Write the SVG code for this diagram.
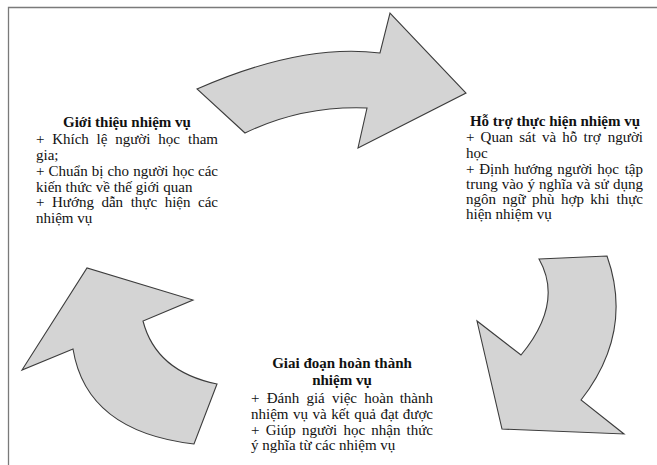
<svg xmlns="http://www.w3.org/2000/svg" width="657" height="465" viewBox="0 0 657 465">
<style>
.frame{fill:none;stroke:#7a7a7a;stroke-width:1.3}
.arrow{fill:#d4d4d4;stroke:#3c3c3c;stroke-width:1.1;stroke-linejoin:miter}
.tx{font-size:15px;fill:#111}
.t{font-weight:bold;text-anchor:middle}
.e{text-anchor:end}
</style>
<rect width="657" height="465" fill="#fff"/>
<path class="frame" d="M8.5,465 V7.5 H657"/>
<g id="connectors">
<path id="arrow-top" class="arrow" d="M197,89 Q301.5,43 380,53 L390,13 L466,93 L358,148 L367,108 Q302,105.5 245,133 Z"/>
<path id="arrow-right" class="arrow" d="M539,259 L607,256 Q634,332 581,400 L624,434 L502,429 L477,321 L521,355 Q564,303 539,259 Z"/>
<path id="arrow-left" class="arrow" d="M217,384 L194,444 Q86.5,431.5 73,349 L22,370 L87,268 L193,300 L143,321 Q156,371.5 217,384 Z"/>
</g>
<g class="tx" font-family="'Liberation Serif', 'Times New Roman', Tinos, 'DejaVu Serif', serif">
<g id="node-gioi-thieu">
<text class="t" x="127" y="127">Giới thiệu nhiệm vụ</text>
<text x="36" y="144" word-spacing="4">+ Khích lệ người học <tspan class="e" x="218">tham</tspan></text>
<text x="36" y="160">gia;</text>
<text x="36" y="176" word-spacing="0.3">+ Chuẩn bị cho người học <tspan class="e" x="218">các</tspan></text>
<text x="36" y="191.5">kiến thức về thế giới quan</text>
<text x="36" y="207" word-spacing="3.8">+ Hướng dẫn thực hiện <tspan class="e" x="218">các</tspan></text>
<text x="36" y="222.5">nhiệm vụ</text>
</g>
<g id="node-ho-tro">
<text class="t" x="555" y="126">Hỗ trợ thực hiện nhiệm vụ</text>
<text x="466" y="142" word-spacing="2.4">+ Quan sát và hỗ trợ <tspan class="e" x="643">người</tspan></text>
<text x="466" y="158">học</text>
<text x="466" y="174" word-spacing="1">+ Định hướng người học <tspan class="e" x="643">tập</tspan></text>
<text x="466" y="189" word-spacing="0.3">trung vào ý nghĩa và sử <tspan class="e" x="643">dụng</tspan></text>
<text x="466" y="204" word-spacing="2.7">ngôn ngữ phù hợp khi <tspan class="e" x="643">thực</tspan></text>
<text x="466" y="219">hiện nhiệm vụ</text>
</g>
<g id="node-hoan-thanh">
<text class="t" x="342" y="368">Giai đoạn hoàn thành</text>
<text class="t" x="342" y="385">nhiệm vụ</text>
<text x="251" y="403" word-spacing="3.5">+ Đánh giá việc hoàn <tspan class="e" x="433">thành</tspan></text>
<text x="251" y="419" word-spacing="0.8">nhiệm vụ và kết quả đạt <tspan class="e" x="433">được</tspan></text>
<text x="251" y="435" word-spacing="2.5">+ Giúp người học nhận <tspan class="e" x="433">thức</tspan></text>
<text x="251" y="450">ý nghĩa từ các nhiệm vụ</text>
</g>
</g>
</svg>
